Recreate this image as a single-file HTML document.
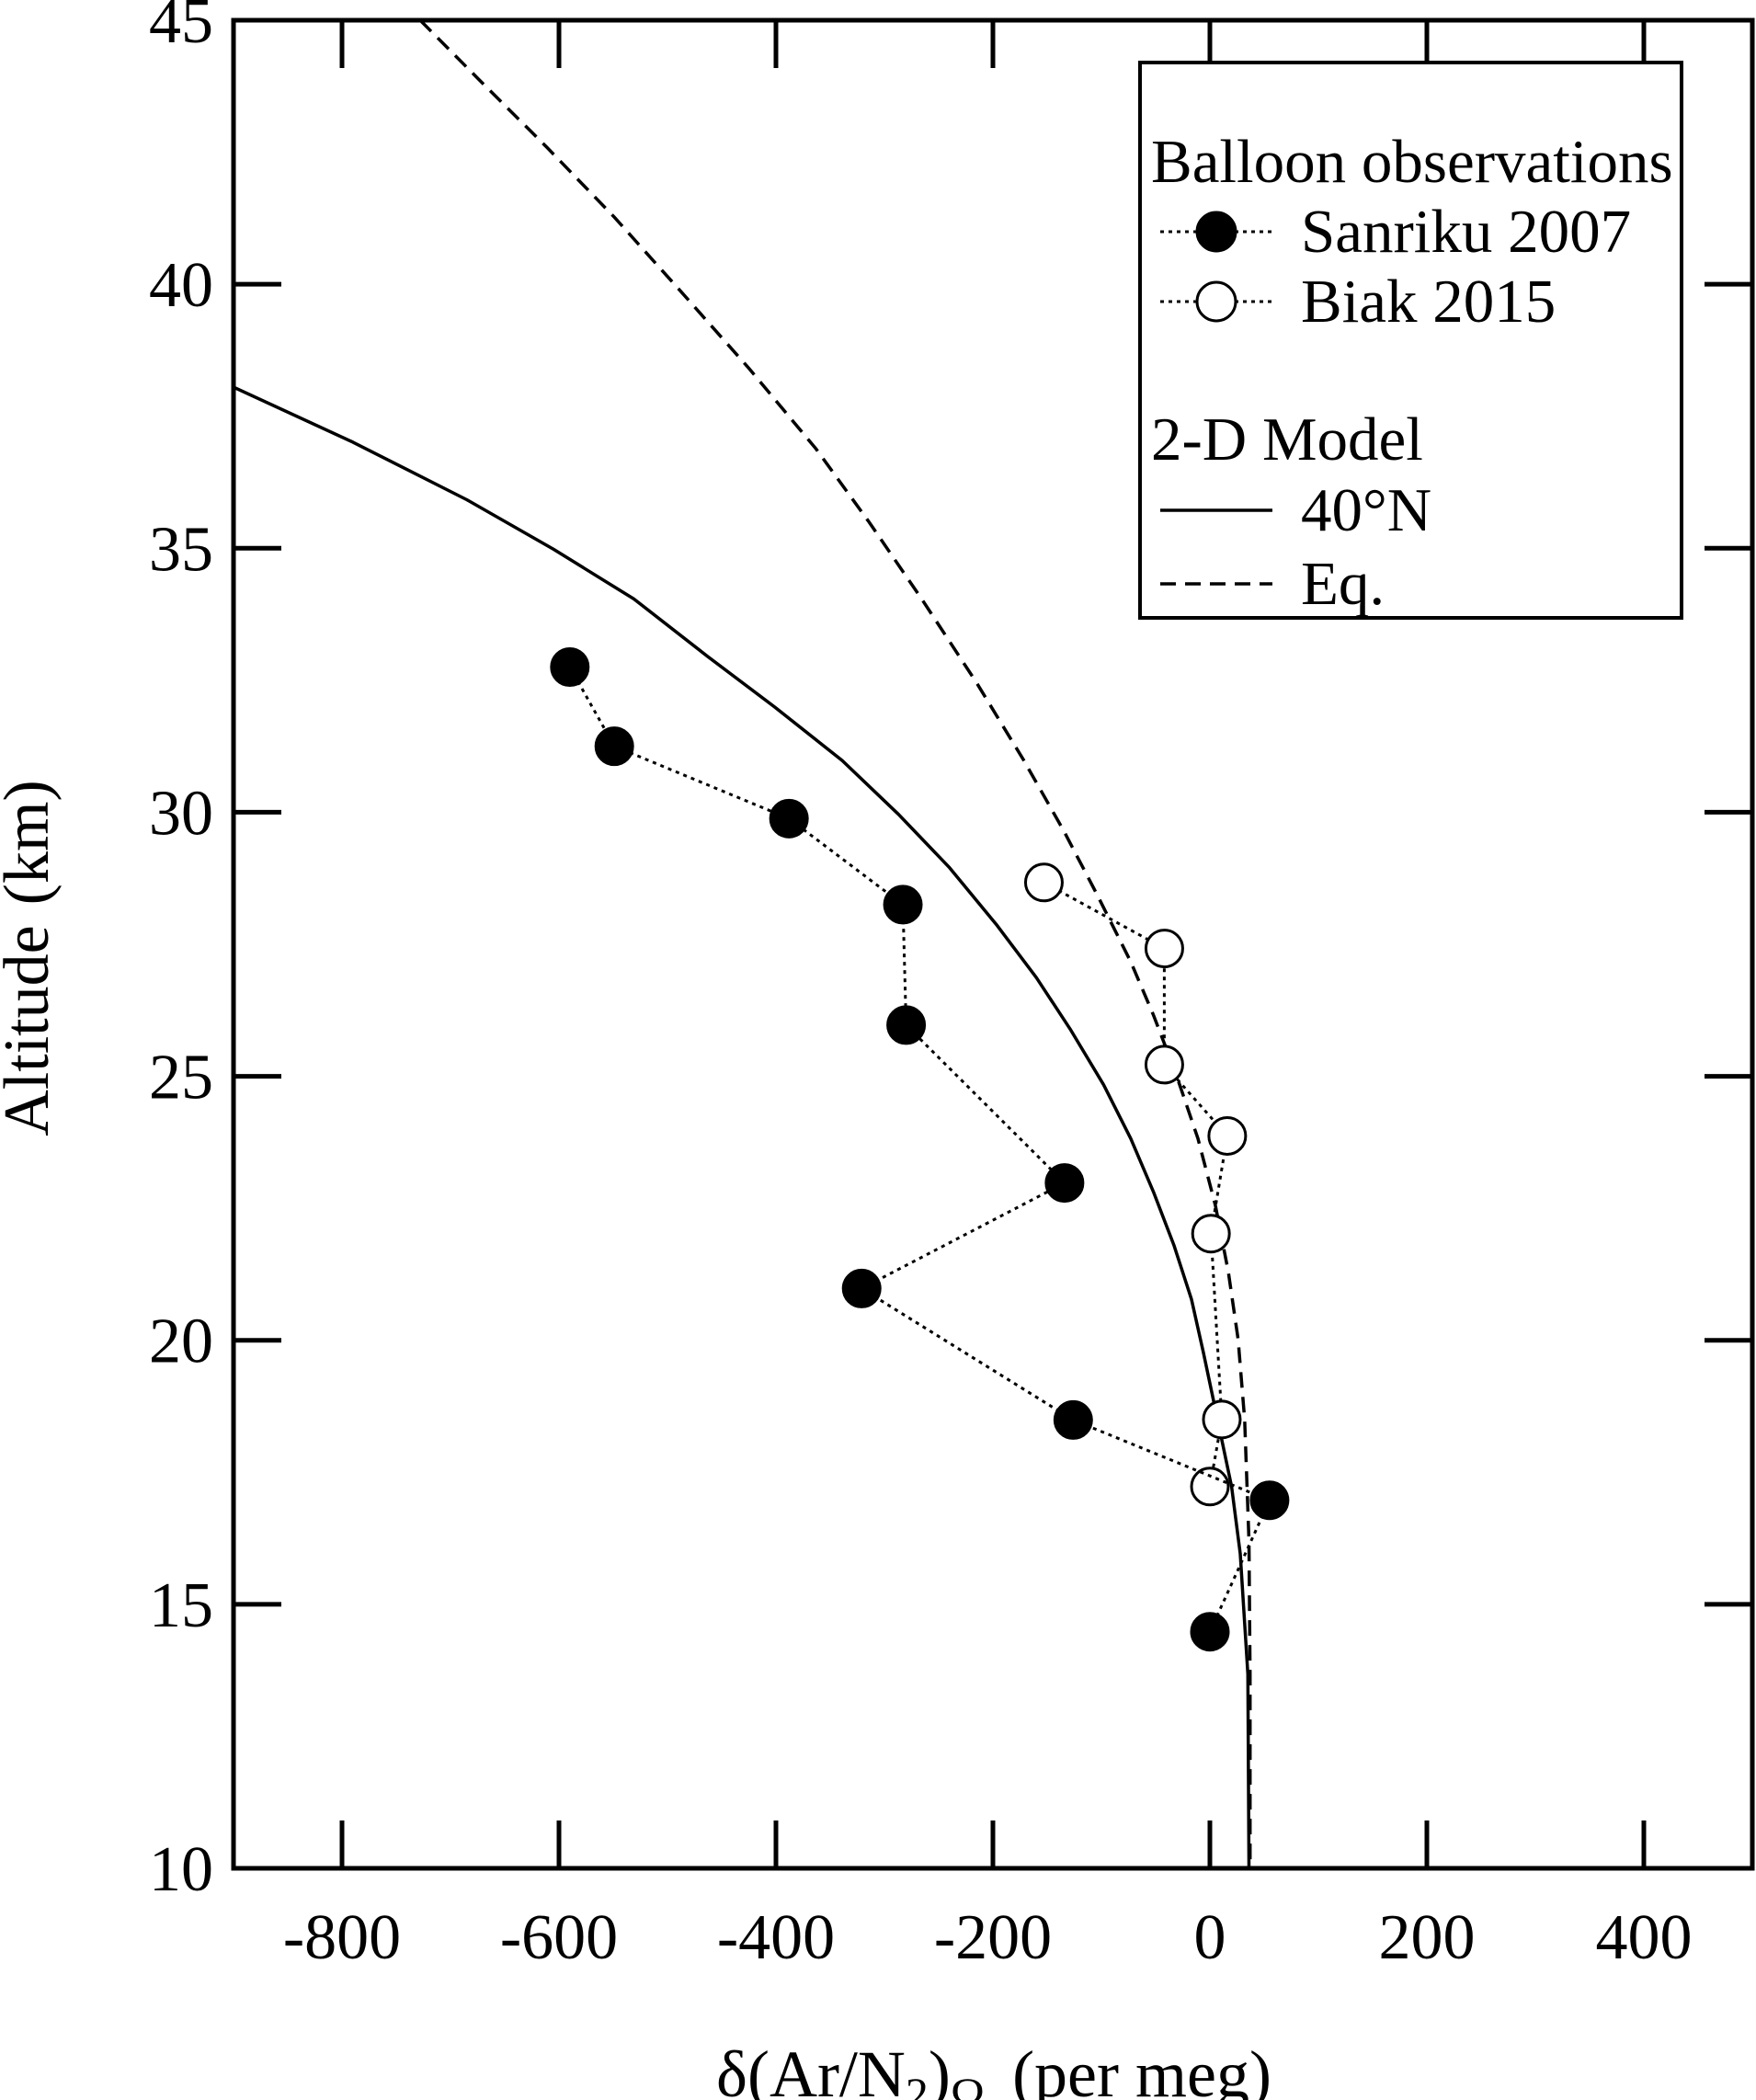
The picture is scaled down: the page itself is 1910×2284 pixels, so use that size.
<!DOCTYPE html>
<html><head><meta charset="utf-8"><style>
html,body{margin:0;padding:0;background:#fff;}
svg{display:block;font-family:"Liberation Serif",serif;}
</style></head><body>
<svg id="chart" width="1910" height="2284" viewBox="0 0 1910 2284" xmlns="http://www.w3.org/2000/svg">
<defs><clipPath id="plotclip"><rect x="254" y="22" width="1652" height="2010"/></clipPath></defs>
<g id="curves" clip-path="url(#plotclip)"></g>
<g id="series"></g>
<g id="axes"></g>
<g id="legend">
  <rect x="1240" y="68" width="589" height="604" fill="#fff" stroke="#000" stroke-width="4"/>
  <text x="1252" y="198" font-size="67">Balloon observations</text>
  <line x1="1262" y1="252" x2="1384" y2="252" stroke="#000" stroke-width="3" stroke-dasharray="4,5"/>
  <circle cx="1323" cy="252" r="21" fill="#000" stroke="#000" stroke-width="3"/>
  <text x="1415" y="274" font-size="67">Sanriku 2007</text>
  <line x1="1262" y1="328" x2="1384" y2="328" stroke="#000" stroke-width="3" stroke-dasharray="4,5"/>
  <circle cx="1323" cy="328" r="21" fill="#fff" stroke="#000" stroke-width="3"/>
  <text x="1415" y="350" font-size="67">Biak 2015</text>
  <text x="1252" y="500" font-size="67">2-D Model</text>
  <line x1="1262" y1="555" x2="1384" y2="555" stroke="#000" stroke-width="3.5"/>
  <text x="1415" y="577" font-size="67">40°N</text>
  <line x1="1262" y1="635" x2="1384" y2="635" stroke="#000" stroke-width="3.5" stroke-dasharray="17,10"/>
  <text x="1415" y="657" font-size="67">Eq.</text>
</g>
<text x="1081" y="2280" text-anchor="middle" font-size="72">δ(Ar/N<tspan font-size="50" dy="14">2</tspan><tspan dy="-14">)</tspan><tspan font-size="50" dy="14">Ω</tspan><tspan dy="-14" dx="30">(per meg)</tspan></text>
<text transform="translate(52,1042) rotate(-90)" text-anchor="middle" font-size="70">Altitude<tspan dx="22">(km)</tspan></text>
<script>
const xTicks=[-800,-600,-400,-200,0,200,400];
const yTicks=[10,15,20,25,30,35,40,45];
const sanX=[-590,-549,-388,-283,-280,-134,-321,-126,55,0];
const sanY=[32.75,31.25,29.88,28.25,25.97,22.98,20.98,18.49,16.97,14.48];
const biakX=[-153,-42,-42,16,1,11,0];
const biakY=[28.67,27.42,25.22,23.87,22.02,18.5,17.23];
const m40X=[-903,-790,-685,-605,-531,-463,-401,-339,-287,-240,-197,-160,-129,-98,-73,-52,-33,-17,-6,7,20,28,35,36];
const m40Y=[38.08,37.01,35.92,34.98,34.04,32.95,31.99,30.98,29.96,28.95,27.88,26.87,25.90,24.84,23.82,22.81,21.79,20.78,19.77,18.50,17.23,15.96,13.68,10.0];
const eqX=[-728,-673,-611,-549,-487,-425,-363,-314,-265,-215,-172,-135,-104,-73,-52,-32,-11,5,17,26,32,36,37,37];
const eqY=[45,43.86,42.59,41.27,39.85,38.41,36.88,35.49,34.02,32.45,31.0,29.66,28.44,27.17,26.16,25.09,23.82,22.56,21.29,20.02,18.5,16.21,13.68,10];
const X0=254,X1=1906,Y0=2032,Y1=22,xmin=-900,xmax=500,ymin=10,ymax=45;
function sx(v){return X0+(v-xmin)/(xmax-xmin)*(X1-X0);}
function sy(v){return Y0-(v-ymin)/(ymax-ymin)*(Y0-Y1);}
const NS='http://www.w3.org/2000/svg';
function mk(t,a,p){const e=document.createElementNS(NS,t);for(const k in a)e.setAttribute(k,a[k]);p.appendChild(e);return e;}
const axes=document.getElementById('axes'),curves=document.getElementById('curves'),series=document.getElementById('series');
const frame=mk('rect',{x:X0,y:Y1,width:X1-X0,height:Y0-Y1,fill:'none',stroke:'#000','stroke-width':5},axes);


xTicks.forEach(v=>{
  const x=sx(v);
  mk('line',{x1:x,y1:Y0,x2:x,y2:Y0-52,stroke:'#000','stroke-width':5},axes);
  mk('line',{x1:x,y1:Y1,x2:x,y2:Y1+52,stroke:'#000','stroke-width':5},axes);
  const t=mk('text',{x:x,y:Y0+98,'text-anchor':'middle','font-size':70},axes);
  t.textContent=String(v);
  
  
});
yTicks.forEach(v=>{
  const y=sy(v);
  mk('line',{x1:X0,y1:y,x2:X0+52,y2:y,stroke:'#000','stroke-width':5},axes);
  mk('line',{x1:X1,y1:y,x2:X1-52,y2:y,stroke:'#000','stroke-width':5},axes);
  const t=mk('text',{x:X0-22,y:y+24,'text-anchor':'end','font-size':70},axes);
  t.textContent=String(v);
  
  
});
function pts(xs,ys){return xs.map((v,i)=>sx(v).toFixed(1)+','+sy(ys[i]).toFixed(1)).join(' ');}
const l40=mk('polyline',{points:pts(m40X,m40Y),fill:'none',stroke:'#000','stroke-width':3.5,'stroke-linejoin':'round'},curves);


const leq=mk('polyline',{points:pts(eqX,eqY),fill:'none',stroke:'#000','stroke-width':3.5,'stroke-dasharray':'17,10'},curves);


function obs(xs,ys,fill,name){
  const l=mk('polyline',{points:pts(xs,ys),fill:'none',stroke:'#000','stroke-width':3,'stroke-dasharray':'4,5'},series);
  
  
  xs.forEach((v,i)=>{
    const c=mk('circle',{cx:sx(v),cy:sy(ys[i]),r:20,fill:fill,stroke:'#000','stroke-width':3},series);
    
    
  });
}
obs(biakX,biakY,'#fff','biak-2015');
obs(sanX,sanY,'#000','sanriku-2007');
</script>
</svg>
</body></html>
